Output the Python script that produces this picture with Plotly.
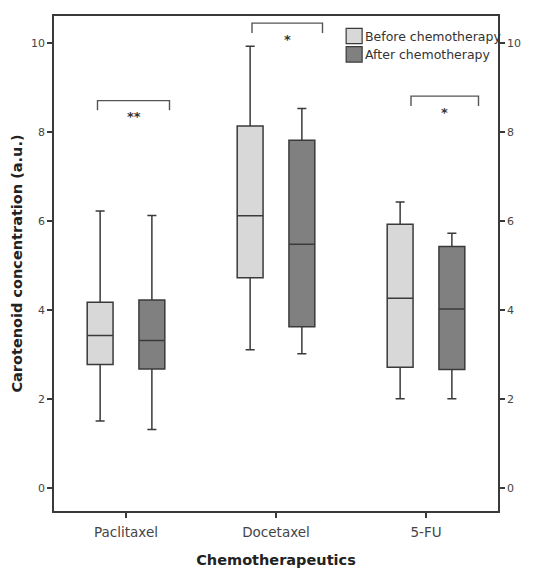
import plotly.graph_objects as go

categories = ["Paclitaxel", "Docetaxel", "5-FU"]
series_names = ["Before chemotherapy", "After chemotherapy"]
series_colors = ["#d8d8d8", "#808080"]

before_low = [1.5, 3.1, 2.0]
before_q1 = [2.77, 4.72, 2.71]
before_med = [3.42, 6.11, 4.26]
before_q3 = [4.17, 8.13, 5.92]
before_high = [6.22, 9.92, 6.42]

after_low = [1.31, 3.01, 2.0]
after_q1 = [2.67, 3.62, 2.66]
after_med = [3.31, 5.47, 4.02]
after_q3 = [4.22, 7.81, 5.42]
after_high = [6.12, 8.52, 5.72]

sig_labels = ["**", "*", "*"]
sig_levels = [8.7, 10.44, 8.8]

y_ticks = [0, 2, 4, 6, 8, 10]

FONT = "DejaVu Sans, Verdana, sans-serif"
LINE = "#3a3a3a"

fig = go.Figure()
for name, color, lo, q1, med, q3, hi in [
    (series_names[0], series_colors[0], before_low, before_q1, before_med, before_q3, before_high),
    (series_names[1], series_colors[1], after_low, after_q1, after_med, after_q3, after_high),
]:
    fig.add_trace(go.Box(
        name=name, x=categories,
        q1=q1, median=med, q3=q3, lowerfence=lo, upperfence=hi,
        fillcolor=color, line=dict(color=LINE, width=1.5),
        whiskerwidth=0.35, boxpoints=False, hoverinfo="skip", showlegend=False,
    ))
# invisible trace to carry the mirrored right axis
fig.add_trace(go.Scatter(
    x=categories, y=before_med, yaxis="y2", mode="markers",
    marker=dict(opacity=0), showlegend=False, hoverinfo="skip",
))

# significance brackets (offsets relative to category index)
bx0 = [-0.19, -0.16, -0.10]
bx1 = [0.29, 0.31, 0.35]
drop = 0.22
for i, (lab, lev) in enumerate(zip(sig_labels, sig_levels)):
    x0 = i + bx0[i]
    x1 = i + bx1[i]
    fig.add_shape(type="path",
                  path=f"M {x0},{lev-drop} L {x0},{lev} L {x1},{lev} L {x1},{lev-drop}",
                  xref="x", yref="y", line=dict(color="#555555", width=1.4))
    fig.add_annotation(x=(x0 + x1) / 2, y=lev - 0.36, xref="x", yref="y",
                       text=f"<b>{lab}</b>", showarrow=False,
                       font=dict(family=FONT, size=13, color="#333333"))

# manual legend (top right, inside plot)
lx, ly, sw, rowh = 0.658, 0.975, 0.036, 0.037
for k, (name, color) in enumerate(zip(series_names, series_colors)):
    y1 = ly - k * rowh
    fig.add_shape(type="rect", xref="paper", yref="paper",
                  x0=lx, x1=lx + sw, y0=y1 - 0.031, y1=y1,
                  fillcolor=color, line=dict(color=LINE, width=1.2))
    fig.add_annotation(x=lx + sw + 0.003, y=y1 - 0.0155, xref="paper", yref="paper",
                       text=name, showarrow=False, xanchor="left", yanchor="middle",
                       font=dict(family=FONT, size=12.5, color="#333333"))

yr = [-0.52, 10.6]
axis_common = dict(
    showline=True, linecolor=LINE, linewidth=1.5,
    ticks="outside", ticklen=5, tickcolor=LINE, tickwidth=1.5,
    showgrid=False, zeroline=False, automargin=False,
)
# page body has an 8px default margin, so margins are shifted accordingly
fig.update_layout(
    width=537, height=568,
    margin=dict(l=46, r=47, t=8, b=65),
    paper_bgcolor="white", plot_bgcolor="white",
    boxmode="group", boxgap=0.31, boxgroupgap=0.5,
    font=dict(family=FONT, size=11, color="#333333"),
    showlegend=False,
    xaxis=dict(
        type="category", range=[-0.48, 2.48], mirror=True,
        tickfont=dict(size=13.5, color="#444444"), ticklabelstandoff=3,
        title=dict(text="<b>Chemotherapeutics</b>", font=dict(size=14.5, color="#222222"), standoff=16),
        **axis_common,
    ),
    yaxis=dict(
        range=yr, tickvals=y_ticks,
        tickfont=dict(size=11, color="#444444"),
        title=dict(text="<b>Carotenoid concentration (a.u.)</b>", font=dict(size=14.5, color="#222222"), standoff=5),
        **axis_common,
    ),
    yaxis2=dict(
        range=yr, tickvals=y_ticks, overlaying="y", side="right",
        tickfont=dict(size=11, color="#444444"),
        **axis_common,
    ),
)

fig.write_html("out.html")
